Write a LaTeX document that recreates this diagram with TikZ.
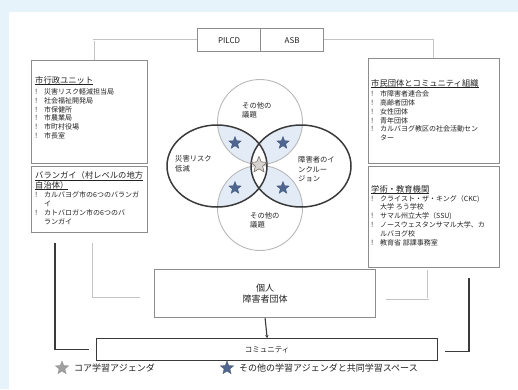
\documentclass[tikz,border=0pt]{standalone}
\usepackage{fontspec}
\setmainfont{Noto Sans CJK JP}
\usetikzlibrary{shapes.geometric,arrows.meta,calc}
\definecolor{bgblue}{HTML}{E6F3FA}
\definecolor{boxgray}{HTML}{8C8C8C}
\definecolor{darkline}{HTML}{3A3A3A}
\definecolor{lightline}{HTML}{C4C4C4}
\definecolor{lensblue}{HTML}{E2EBF6}
\definecolor{starblue}{HTML}{4E6690}
\definecolor{coregray}{HTML}{B0A8A2}
\definecolor{coreline}{HTML}{7E7068}
\definecolor{txt}{HTML}{222222}
\tikzset{
  box/.style={draw=boxgray, line width=1.3pt, fill=white, inner sep=0pt, anchor=north west},
  heading/.style={anchor=north west, inner sep=0pt, align=left, text=txt, font=\fontsize{8.3}{9.5}\selectfont},
  items/.style={anchor=north west, inner sep=0pt, align=left, text=txt, font=\fontsize{7}{8.8}\selectfont},
  vlabel/.style={anchor=north west, inner sep=0pt, align=left, text=txt, font=\fontsize{7.3}{9.5}\selectfont},
  lightconn/.style={draw=lightline, line width=0.6pt, double=white, double distance=0.9pt},
  darkconn/.style={draw=darkline, line width=1.4pt},
  bluestar/.style={star, star points=5, star point ratio=2.3, minimum size=13pt, inner sep=0pt, fill=starblue, draw=starblue!80!black, line width=0.3pt},
  graystar/.style={star, star points=5, star point ratio=2.3, minimum size=14pt, inner sep=0pt, fill=gray!75, draw=gray!90, line width=0.3pt},
}
\newcommand{\bul}{\makebox[9pt][l]{!}}
\newcommand{\cont}{\hspace*{9pt}}
\newcommand{\myul}[1]{\setbox0=\hbox{#1}\rlap{\rule[-1.3pt]{\wd0}{0.55pt}}\box0}
\begin{document}
\begin{tikzpicture}[x=1pt,y=-1pt]
\useasboundingbox (0,0) rectangle (518,389);
\fill[bgblue] (0,0) rectangle (518,389);
\fill[white] (9,12) rectangle (518,389);

% top boxes
\node[box, minimum width=63pt, minimum height=23pt, font=\fontsize{8}{9}\selectfont, text=txt] (pil) at (197,28) {PILCD};
\node[box, minimum width=63pt, minimum height=23pt, font=\fontsize{8}{9}\selectfont, text=txt] (asb) at (260,28) {ASB};

% left boxes
\node[box, minimum width=116pt, minimum height=103pt] (lb1) at (31,60) {};
\node[heading] (lb1h) at (35,76.5) {\myul{市行政ユニット}};
\node[items] (lb1i) at (35,88.5) {\bul 災害リスク軽減担当局\\ \bul 社会福祉開発局\\ \bul 市保健所\\ \bul 市農業局\\ \bul 市町村役場\\ \bul 市長室};

\node[box, minimum width=116pt, minimum height=66pt] (lb2) at (31,166) {};
\node[heading] (lb2h) at (35,171.5) {\myul{バランガイ（村レベルの地方}\\ \myul{自治体）}};
\node[items] (lb2i) at (35,191.5) {\bul カルバヨグ市の6つのバランガ\\ \cont イ\\ \bul カトバロガン市の6つのバ\\ \cont ランガイ};

% right boxes
\node[box, minimum width=131pt, minimum height=105pt] (rb1) at (368,58) {};
\node[heading] (rb1h) at (371,79.5) {\myul{市民団体とコミュニティ組織}};
\node[items] (rb1i) at (371,90.5) {\bul 市障害者連合会\\ \bul 高齢者団体\\ \bul 女性団体\\ \bul 青年団体\\ \bul カルバヨグ教区の社会活動セン\\ \cont ター};

\node[box, minimum width=131pt, minimum height=101pt] (rb2) at (368,166) {};
\node[heading] (rb2h) at (371,185.5) {\myul{学術・教育機関}};
\node[items] (rb2i) at (371,195) {\bul クライスト・ザ・キング（CKC)\\ \cont 大学 ろう学校\\ \bul サマル州立大学（SSU)\\ \bul ノースウェスタンサマル大学、カ\\ \cont ルバヨグ校\\ \bul 教育省 部課事務室};

% Venn fills
\begin{scope}
  \clip (260,122) circle (42.5);
  \fill[lensblue] (217,166) ellipse (50 and 41);
  \fill[lensblue] (301,166) ellipse (50 and 41);
\end{scope}
\begin{scope}
  \clip (260,208) circle (42.5);
  \fill[lensblue] (217,166) ellipse (50 and 41);
  \fill[lensblue] (301,166) ellipse (50 and 41);
\end{scope}
\begin{scope}
  \clip (217,166) ellipse (50 and 41);
  \fill[white] (301,166) ellipse (50 and 41);
\end{scope}
\draw[gray!55, line width=0.9pt] (260,122) circle (42.5);
\draw[gray!55, line width=0.9pt] (260,208) circle (42.5);
\draw[darkline, line width=1.5pt] (217,166) ellipse (50 and 41);
\draw[darkline, line width=1.5pt] (301,166) ellipse (50 and 41);

\node[bluestar] (s1) at (235,143) {};
\node[bluestar] (s2) at (283,143) {};
\node[bluestar] (s3) at (235,188) {};
\node[bluestar] (s4) at (283,188) {};
\node[star, star points=5, star point ratio=2.2, minimum size=17pt, inner sep=0pt, fill=coregray!50, draw=coreline, line width=0.6pt] (core) at (259,165) {};

\node[vlabel] (v1) at (242,102) {その他の\\議題};
\node[vlabel] (v2) at (175,155.5) {災害リスク\\低減};
\node[vlabel] (v3) at (298,156.5) {障害者のイ\\ンクルー\\ジョン};
\node[vlabel] (v4) at (250,212) {その他の\\議題};

% lower boxes
\node[box, minimum width=221pt, minimum height=48pt, line width=1.2pt, align=center, text=txt, font=\fontsize{9}{11}\selectfont] (ind) at (154,269) {個人\\障害者団体};
\node[box, draw=darkline, minimum width=341pt, minimum height=22pt, text=txt, font=\fontsize{7.5}{9}\selectfont] (com) at (96,338) {コミュニティ};

% connectors
\draw[lightconn] (pil.west) -| ([xshift=4pt]lb1.north);
\draw[lightconn] (asb.east) -| ([xshift=-1.5pt]rb1.north);
\draw[darkconn] ([xshift=24pt,yshift=-10pt]lb2.south west) |- ([xshift=-7pt]com.west);
\draw[lightconn] ([xshift=62pt,yshift=-10pt]lb2.south west) |- ([xshift=-14pt,yshift=-3pt]ind.west);
\draw[lightconn] ([xshift=60pt,yshift=-2pt]rb2.south west) |- ([xshift=10pt,yshift=-5pt]ind.east);
\draw[darkconn] ([xshift=101pt,yshift=-10pt]rb2.south west) |- ([xshift=7pt,yshift=-2pt]com.east);
\draw[draw=darkline, line width=1.1pt, -{Stealth[length=3pt,width=3.5pt]}] (ind.south) -- (com.north);

% legend
\node[graystar] (lg1) at (62,368) {};
\node[anchor=west, inner sep=0pt, text=txt, font=\fontsize{9}{11}\selectfont] (lt1) at (74,368) {コア学習アジェンダ};
\node[bluestar, minimum size=14pt] (lg2) at (227,368) {};
\node[anchor=west, inner sep=0pt, text=txt, font=\fontsize{9}{11}\selectfont] (lt2) at (239,368) {その他の学習アジェンダと共同学習スペース};
\end{tikzpicture}
\end{document}
